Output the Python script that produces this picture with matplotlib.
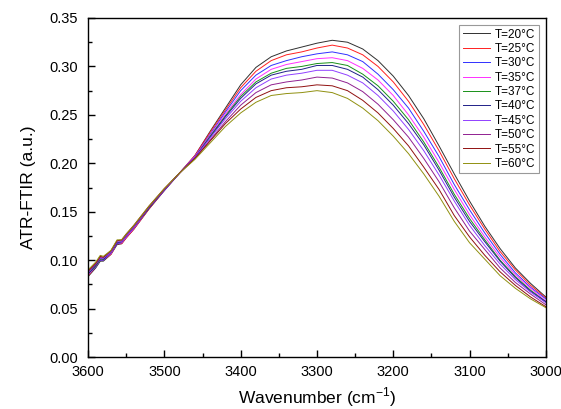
import numpy as np
import matplotlib
matplotlib.use("Agg")
import matplotlib.pyplot as plt
from matplotlib.ticker import MultipleLocator

plt.rcParams['font.family'] = ['Liberation Sans', 'DejaVu Sans']
plt.rcParams['mathtext.fontset'] = 'custom'
plt.rcParams['mathtext.rm'] = 'Liberation Sans'

# wavenumber grid (cm-1)
wn = [3600, 3590, 3584, 3580, 3570, 3562, 3556, 3550, 3540, 3520, 3500, 3480,
      3460, 3440, 3420, 3400, 3380, 3360, 3340, 3320, 3300, 3280, 3260, 3240,
      3220, 3200, 3180, 3160, 3140, 3120, 3100, 3080, 3060, 3040, 3020, 3000]

t20 = [.083, .092, .099, .099, .106, .116, .117, .123, .132, .153, .172, .190,
       .208, .233, .257, .281, .299, .310, .316, .320, .324, .327, .325, .318,
       .306, .290, .270, .246, .218, .189, .161, .135, .112, .092, .076, .062]
t25 = [.084, .093, .100, .100, .106, .117, .117, .123, .132, .153, .172, .190,
       .208, .232, .255, .278, .295, .306, .312, .315, .319, .322, .319, .312,
       .300, .284, .264, .240, .213, .184, .157, .132, .109, .090, .074, .061]
t30 = [.085, .093, .100, .100, .107, .117, .118, .124, .133, .154, .172, .190,
       .207, .230, .253, .275, .291, .301, .306, .310, .313, .315, .312, .305,
       .292, .276, .257, .233, .207, .178, .152, .128, .106, .087, .072, .060]
t35 = [.085, .094, .101, .101, .107, .118, .118, .124, .133, .154, .173, .190,
       .207, .229, .251, .271, .287, .297, .302, .305, .308, .309, .306, .298,
       .286, .270, .250, .227, .201, .173, .147, .124, .103, .085, .071, .058]
t37 = [.086, .094, .101, .101, .108, .118, .119, .125, .134, .154, .173, .190,
       .206, .228, .249, .269, .284, .293, .298, .300, .303, .304, .301, .292,
       .280, .264, .245, .222, .196, .168, .143, .121, .100, .083, .069, .057]
t40 = [.086, .095, .102, .101, .108, .118, .119, .125, .134, .154, .173, .190,
       .206, .227, .248, .267, .282, .291, .295, .297, .301, .301, .297, .289,
       .276, .260, .241, .219, .193, .165, .140, .119, .099, .082, .068, .057]
t45 = [.087, .096, .102, .102, .108, .119, .119, .125, .134, .155, .173, .190,
       .206, .226, .246, .264, .278, .287, .291, .293, .296, .296, .291, .283,
       .270, .254, .235, .213, .188, .161, .136, .115, .096, .080, .067, .056]
t50 = [.088, .096, .103, .103, .109, .120, .120, .126, .135, .155, .173, .190,
       .205, .224, .243, .260, .273, .281, .284, .286, .289, .288, .283, .274,
       .261, .245, .227, .205, .181, .154, .130, .111, .092, .077, .065, .054]
t55 = [.089, .097, .104, .103, .110, .120, .121, .127, .136, .156, .174, .190,
       .205, .223, .241, .256, .268, .275, .278, .279, .281, .280, .275, .265,
       .252, .236, .218, .196, .173, .146, .124, .105, .088, .074, .062, .052]
t60 = [.090, .098, .105, .104, .110, .121, .121, .127, .136, .156, .174, .190,
       .204, .221, .238, .252, .263, .270, .272, .273, .275, .273, .267, .257,
       .244, .228, .210, .189, .166, .140, .118, .101, .084, .071, .060, .051]

series = [t20, t25, t30, t35, t37, t40, t45, t50, t55, t60]
labels = ["T=20°C", "T=25°C", "T=30°C", "T=35°C", "T=37°C",
          "T=40°C", "T=45°C", "T=50°C", "T=55°C", "T=60°C"]
colors = ["#303030", "#ff2020", "#3030ff", "#ff30ff", "#189018",
          "#202088", "#9040ff", "#902090", "#901010", "#909010"]

fig = plt.figure(figsize=(5.61, 4.09), dpi=100)
ax = fig.add_axes([0.157, 0.127, 0.816, 0.829])

for y, lab, c in zip(series, labels, colors):
    ax.plot(wn, y, color=c, lw=0.7, label=lab)

ax.set_xlim(3600, 3000)
ax.set_ylim(0, 0.35)
ax.xaxis.set_major_locator(MultipleLocator(100))
ax.xaxis.set_minor_locator(MultipleLocator(50))
ax.yaxis.set_major_locator(MultipleLocator(0.05))
ax.yaxis.set_minor_locator(MultipleLocator(0.025))
ax.yaxis.set_major_formatter(plt.FormatStrFormatter('%.2f'))
ax.tick_params(which='major', direction='in', length=5, width=1, labelsize=10.5)
ax.tick_params(axis='x', which='major', pad=6)
ax.tick_params(axis='y', which='major', pad=7)
ax.tick_params(which='minor', direction='in', length=3, width=1)
for s in ax.spines.values():
    s.set_linewidth(1)

ax.set_xlabel("Wavenumber (cm$^{-1}$)", fontsize=12.5, labelpad=4)
ax.set_ylabel("ATR-FTIR (a.u.)", fontsize=12.5, labelpad=10)

leg = ax.legend(loc='upper right', fontsize=8.5, frameon=True, fancybox=False,
                edgecolor='#808080', handlelength=2.3, labelspacing=0.2,
                borderaxespad=0.6, handletextpad=0.4, borderpad=0.3)
leg.get_frame().set_linewidth(0.8)

plt.savefig("out.png", dpi=100)
